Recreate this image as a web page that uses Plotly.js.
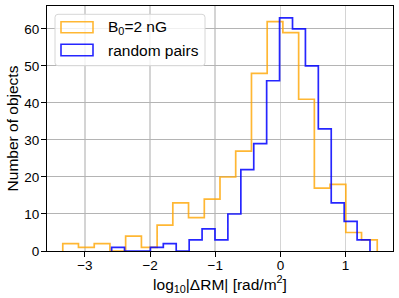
<!DOCTYPE html>
<html>
<head>
<meta charset="utf-8">
<script src="https://cdn.plot.ly/plotly-3.0.1.min.js"></script>
<style>html,body{margin:0;padding:0;background:#fff;}#chart{width:399px;height:298px;}</style>
</head>
<body>
<div id="chart"></div>
<script>
// Bin edges and counts (20 bins each, step histograms)
const orangeEdges = [-3.340, -3.099, -2.857, -2.616, -2.375, -2.133, -1.892, -1.651, -1.410, -1.168, -0.927,
                     -0.686, -0.444, -0.203, 0.038, 0.280, 0.521, 0.762, 1.004, 1.245, 1.486];
const orangeCounts = [2, 1, 2, 0, 4, 1, 7, 13, 9, 14, 20, 27, 48, 62, 59, 41, 17, 18, 5, 3];

const blueEdges = [-2.590, -2.392, -2.193, -1.995, -1.797, -1.599, -1.400, -1.202, -1.004, -0.806, -0.607,
                   -0.409, -0.211, -0.013, 0.186, 0.384, 0.582, 0.780, 0.979, 1.177, 1.375];
const blueCounts = [1, 0, 0, 1, 2, 0, 3, 6, 3, 10, 22, 29, 46, 63, 60, 50, 33, 13, 8, 3];

const seriesNames = ["B<sub>0</sub>=2 nG", "random pairs"];
const xTicks = [-3, -2, -1, 0, 1];
const yTicks = [0, 10, 20, 30, 40, 50, 60];

const ORANGE = "rgba(255,165,0,0.8)";
const BLUE = "rgba(0,0,255,0.85)";
const FONT = "Liberation Sans, Arial, sans-serif";

function stepTrace(edges, counts, color, name) {
  const x = [edges[0]].concat(edges);
  const y = [0].concat(counts, [0]);
  return {
    type: "scatter", mode: "lines", x: x, y: y, name: name,
    line: {shape: "hv", color: color, width: 1.7},
    showlegend: false, hoverinfo: "skip"
  };
}

const traces = [
  stepTrace(orangeEdges, orangeCounts, ORANGE, seriesNames[0]),
  stepTrace(blueEdges, blueCounts, BLUE, seriesNames[1])
];

// plot area in pixels
const W = 399, H = 298, L = 47, R = 6, T = 6, B = 47;
const pw = W - L - R, ph = H - T - B;
const px = v => (v - L) / pw;
const py = v => (H - B - v) / ph;

// manual legend (matplotlib-style patch legend)
function roundRectPath(x0, y0, x1, y1, r) {
  const rx = r / pw, ry = r / ph;
  const a = px(x0), b = px(x1), top = py(y0), bot = py(y1);
  return `M${a + rx},${top} L${b - rx},${top} Q${b},${top} ${b},${top - ry} ` +
         `L${b},${bot + ry} Q${b},${bot} ${b - rx},${bot} L${a + rx},${bot} ` +
         `Q${a},${bot} ${a},${bot + ry} L${a},${top - ry} Q${a},${top} ${a + rx},${top} Z`;
}

const shapes = [
  {type: "path", xref: "paper", yref: "paper", path: roundRectPath(55, 14.3, 205, 65.7, 3),
   fillcolor: "rgba(255,255,255,0.8)", line: {color: "#d6d6d6", width: 1}},
  {type: "rect", xref: "paper", yref: "paper", x0: px(61), x1: px(93), y0: py(21.7), y1: py(32.7),
   fillcolor: "rgba(0,0,0,0)", line: {color: ORANGE, width: 1.6}},
  {type: "rect", xref: "paper", yref: "paper", x0: px(61), x1: px(93), y0: py(44.3), y1: py(55.7),
   fillcolor: "rgba(0,0,0,0)", line: {color: BLUE, width: 1.6}}
];

const annotations = [
  {xref: "paper", yref: "paper", x: px(106), y: py(27.5), xanchor: "left", yanchor: "middle",
   text: seriesNames[0], showarrow: false, font: {family: FONT, size: 15.5, color: "#000"}},
  {xref: "paper", yref: "paper", x: px(106), y: py(50.5), xanchor: "left", yanchor: "middle",
   text: seriesNames[1], showarrow: false, font: {family: FONT, size: 15.5, color: "#000"}}
];

const layout = {
  width: W, height: H,
  margin: {l: L, r: R, t: T, b: B, pad: 0},
  paper_bgcolor: "#fff", plot_bgcolor: "#fff",
  font: {family: FONT, color: "#000", size: 13.5},
  showlegend: false,
  xaxis: {
    range: [-3.582, 1.728], tickmode: "array", tickvals: xTicks, ticktext: xTicks.map(v => v < 0 ? "\u2212" + Math.abs(v) : String(v)),
    showgrid: true, gridcolor: "#d4d4d4", gridwidth: 1.5,
    zeroline: false, showline: true, linecolor: "#000", linewidth: 1, mirror: true,
    ticks: "outside", ticklen: 5, tickwidth: 1, tickcolor: "#000", ticklabelstandoff: -3,
    tickfont: {family: FONT, size: 13.5, color: "#000"},
    title: {text: "log<sub>10</sub>|ΔRM| [rad/m<sup>2</sup>]", font: {family: FONT, size: 15.5, color: "#000"}, standoff: 0},
    automargin: false
  },
  yaxis: {
    range: [0, 66.2], tickmode: "array", tickvals: yTicks,
    showgrid: true, gridcolor: "#b4b4b4", gridwidth: 1,
    zeroline: false, showline: true, linecolor: "#000", linewidth: 1, mirror: true,
    ticks: "outside", ticklen: 5, tickwidth: 1, tickcolor: "#000", ticklabelstandoff: -1,
    tickfont: {family: FONT, size: 13.5, color: "#000"},
    title: {text: "Number of objects", font: {family: FONT, size: 15.5, color: "#000"}, standoff: 1},
    automargin: false
  },
  shapes: shapes,
  annotations: annotations
};

Plotly.newPlot("chart", traces, layout, {displayModeBar: false, staticPlot: true});
</script>
</body>
</html>
